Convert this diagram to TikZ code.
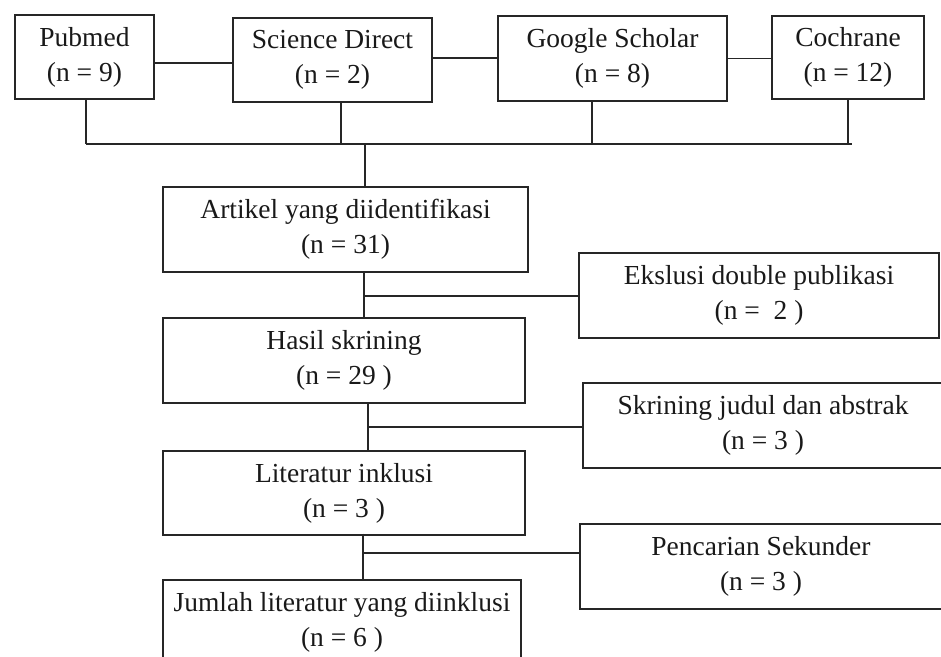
\documentclass[tikz,border=0pt]{standalone}
\usepackage{fontspec}
\setmainfont{Liberation Serif}
\begin{document}
\begin{tikzpicture}[x=1pt,y=-1pt,
  box/.style={draw=black!85, line width=1.3pt, inner sep=0pt, align=center,
    font=\fontsize{27.5}{35}\selectfont, text=black!90},
  conn/.style={draw=black!85, line width=1.3pt}]
\useasboundingbox (0,0) rectangle (941,656);
\begin{scope}
\clip (0,0) rectangle (941,656);
% top row
\node[box, minimum width=139pt, minimum height=84pt] (pub) at (84.5,57) {Pubmed\\(n = 9)};
\node[box, minimum width=199pt, minimum height=84pt] (sd) at (332.5,60) {Science Direct\\(n = 2)};
\node[box, minimum width=229pt, minimum height=85pt] (gs) at (612.5,58.5) {Google Scholar\\(n = 8)};
\node[box, minimum width=152pt, minimum height=83pt] (coch) at (848,57.5) {Cochrane\\(n = 12)};
% main column
\node[box, minimum width=365pt, minimum height=85pt] (art) at (345.5,229.5) {Artikel yang diidentifikasi\\(n = 31)};
\node[box, minimum width=362pt, minimum height=85pt] (hasil) at (344,360.5) {Hasil skrining\\(n = 29 )};
\node[box, minimum width=362pt, minimum height=84pt] (lit) at (344,493) {Literatur inklusi\\(n = 3 )};
\node[box, minimum width=358pt, minimum height=85pt] (jml) at (342,622.5) {Jumlah literatur yang diinklusi\\(n = 6 )};
% side boxes
\node[box, minimum width=360pt, minimum height=85pt] (eks) at (759,295.5) {Ekslusi double publikasi\\(n = ~2 )};
\node[box, minimum width=360pt, minimum height=85pt] (skr) at (763,425.5) {Skrining judul dan abstrak\\(n = 3 )};
\node[box, minimum width=362pt, minimum height=85pt] (pen) at (761,566.5) {Pencarian Sekunder\\(n = 3 )};

% top row links
\draw[conn] ([yshift=-6pt]pub.east) -- ([yshift=-6pt]pub.east -| sd.west);
\draw[conn] ([yshift=2pt]sd.east) -- ([yshift=2pt]sd.east -| gs.west);
\draw[conn] (gs.east) -- (gs.east -| coch.west);
% collecting bar
\coordinate (barL) at (86,144);
\coordinate (barR) at (852,144);
\coordinate (barM) at (365,144);
\draw[conn] (barL) -- (barR);
\draw[conn] ([xshift=1.5pt]pub.south) -- ([xshift=1.5pt]pub.south |- barL);
\draw[conn] ([xshift=8.5pt]sd.south) -- ([xshift=8.5pt]sd.south |- barL);
\draw[conn] ([xshift=-20.5pt]gs.south) -- ([xshift=-20.5pt]gs.south |- barL);
\draw[conn] (coch.south) -- (coch.south |- barL);
\draw[conn] (barM) -- (barM |- art.north);
% main flow
\draw[conn] ([xshift=18.5pt]art.south) -- ([xshift=18.5pt]art.south |- hasil.north);
\coordinate (j1) at (364,296);
\draw[conn] (j1) -- (j1 -| eks.west);
\draw[conn] ([xshift=24pt]hasil.south) -- ([xshift=24pt]hasil.south |- lit.north);
\coordinate (j2) at (368,427);
\draw[conn] (j2) -- (j2 -| skr.west);
\draw[conn] ([xshift=19pt,yshift=2pt]lit.south) -- ([xshift=19pt]lit.south |- jml.north);
\coordinate (j3) at (363,553);
\draw[conn] (j3) -- (j3 -| pen.west);
\end{scope}
\end{tikzpicture}
\end{document}
